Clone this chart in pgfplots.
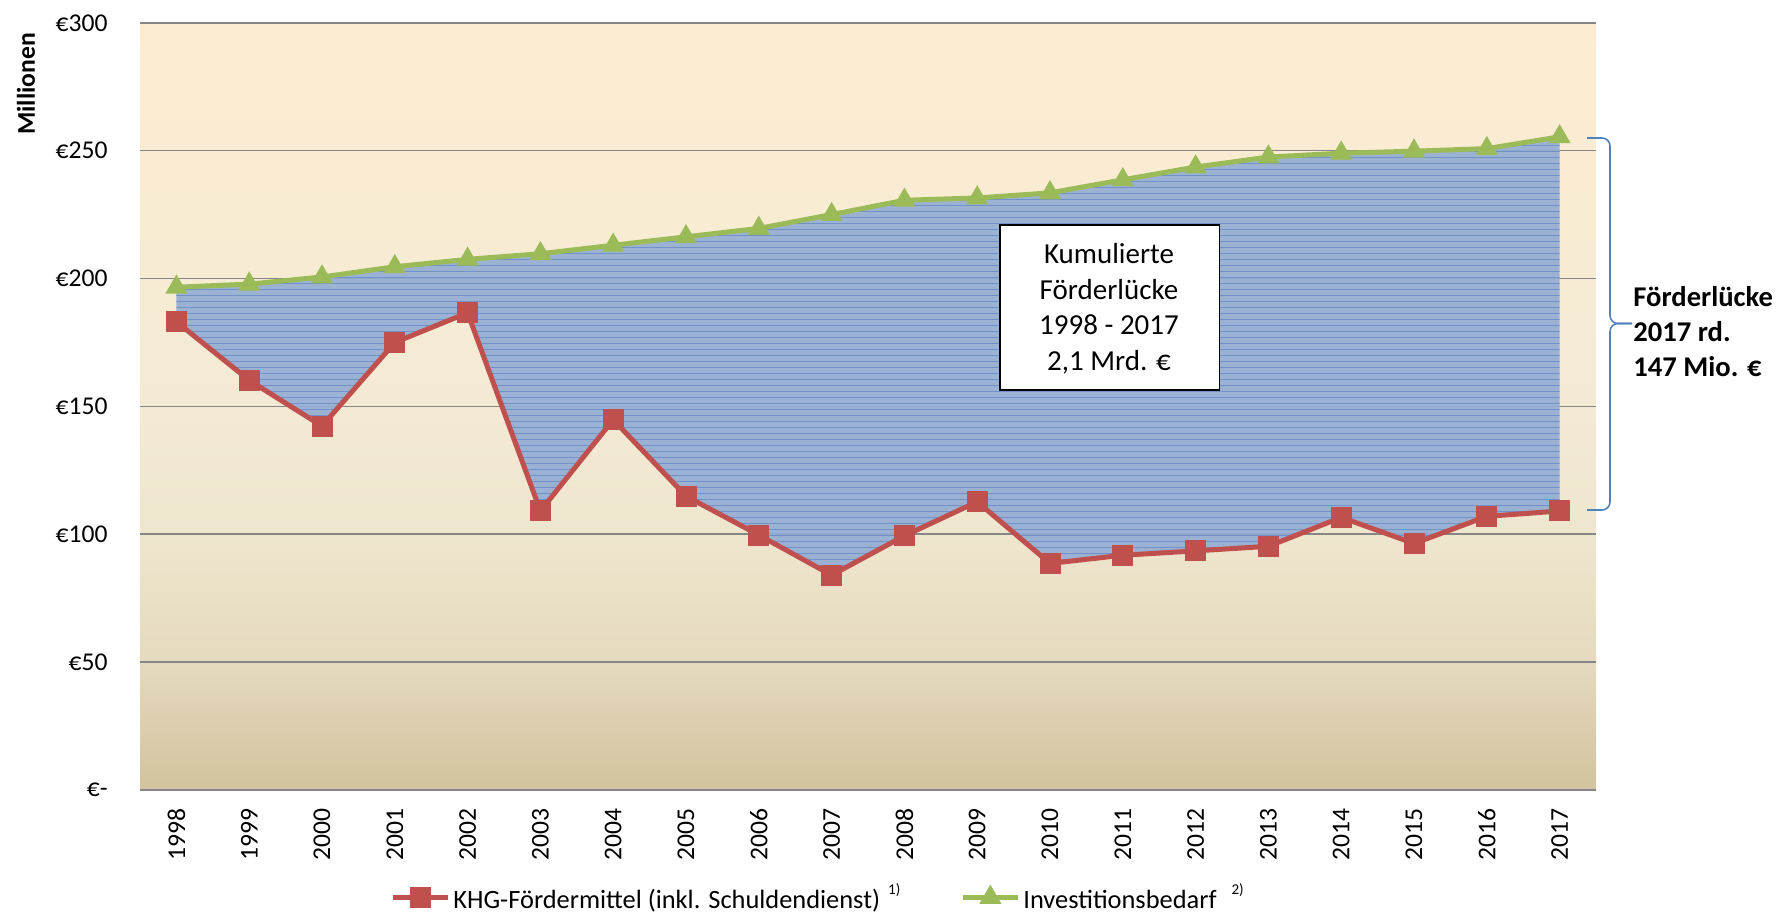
\documentclass[border=0pt]{standalone}
\usepackage{fontspec}
\setmainfont{Carlito}
\usepackage{pgfplots}
\usepackage{pgfplotstable}
\pgfplotsset{compat=1.18}
\usepgfplotslibrary{fillbetween}
\usetikzlibrary{patterns,calc}

\definecolor{khgred}{RGB}{192,80,77}
\definecolor{invgreen}{RGB}{155,187,89}
\definecolor{gapblue}{RGB}{146,172,212}
\definecolor{gapline}{RGB}{112,146,200}
\definecolor{gridgray}{RGB}{134,134,134}
\definecolor{bgtop}{RGB}{252,237,209}
\definecolor{bgupper}{RGB}{248,236,211}
\definecolor{bgmid}{RGB}{244,234,212}
\definecolor{bgq}{RGB}{239,230,206}
\definecolor{bgl}{RGB}{229,218,190}
\definecolor{bgbot}{RGB}{209,195,158}
\definecolor{braceblue}{RGB}{79,129,189}

\pgfdeclareverticalshading{bgshade}{100bp}{color(0bp)=(bgbot); color(25bp)=(bgbot); color(33.33bp)=(bgl); color(41.67bp)=(bgq); color(50bp)=(bgmid); color(62.5bp)=(bgupper); color(75bp)=(bgtop); color(100bp)=(bgtop)}

\pgfplotstableread{
x khg inv
0 183.1 196.6
1 160.2 197.8
2 142.3 200.6
3 175.0 204.6
4 186.6 207.5
5 109.1 209.7
6 144.8 213.0
7 114.9 216.3
8 99.7 219.6
9 84.0 225.0
10 99.4 230.6
11 112.7 231.5
12 88.6 233.5
13 91.8 238.6
14 93.5 243.6
15 95.3 247.5
16 106.6 249.0
17 96.4 249.8
18 107.0 250.8
19 109.1 255.4
}\data

\begin{document}
\begin{tikzpicture}
\begin{axis}[
  at={(70pt,62pt)}, anchor=south west,
  width=728pt, height=383.6pt, scale only axis,
  xmin=-0.5, xmax=19.5, ymin=0, ymax=300,
  xtick={0,1,2,3,4,5,6,7,8,9,10,11,12,13,14,15,16,17,18,19},
  xticklabels={1998,1999,2000,2001,2002,2003,2004,2005,2006,2007,2008,2009,2010,2011,2012,2013,2014,2015,2016,2017},
  ytick={0,50,100,150,200,250,300},
  yticklabels={€-,€50,€100,€150,€200,€250,€300},
  ymajorgrids,
  grid style={gridgray, line width=0.8pt},
  axis line style={draw=none},
  major tick length=0pt,
  tick label style={font=\fontsize{12.8}{15}\selectfont},
  xticklabel style={rotate=90, anchor=east, inner sep=0pt},
  yticklabel style={anchor=east, inner sep=0pt},
  xticklabel shift=9pt,
  yticklabel shift=16pt,
  axis background/.style={shading=bgshade},
  legend columns=2,
  legend style={at={(0.1717,-0.1400)}, anchor=west, draw=none, fill=none,
    inner sep=0pt, font=\fontsize{13.2}{15}\selectfont,
    nodes={inner sep=0pt, anchor=west},
    /tikz/every odd column/.style={column sep=1.5pt},
    /tikz/every even column/.style={column sep=30pt}},
  legend image code/.code={\draw[mark repeat=2,mark phase=2,#1] plot coordinates {(0pt,0pt) (13.75pt,0pt) (27.5pt,0pt)};},
]
\addplot[name path=khg, khgred, line width=2.5pt, mark=square*, mark size=5pt,
  mark options={solid, fill=khgred, draw=khgred, line width=0.5pt}] table[x=x, y=khg] {\data};
\addlegendentry{KHG-Fördermittel (inkl. Schuldendienst)\hspace{4pt}\raisebox{7pt}{\fontsize{7.5}{9}\selectfont 1)}}
\addplot[name path=inv, invgreen, line width=2.5pt, mark=triangle*, mark size=5.9pt,
  mark options={solid, fill=invgreen, draw=invgreen, line width=0.5pt}] table[x=x, y=inv] {\data};
\addlegendentry{Investitionsbedarf\hspace{7.5pt}\raisebox{7pt}{\fontsize{7.5}{9}\selectfont 2)}}
\addplot[draw=none, fill=gapblue, fill opacity=0.9, forget plot] fill between[of=inv and khg];
\addplot[draw=none, pattern=horizontal lines, pattern color=gapline, forget plot] fill between[of=inv and khg];
\end{axis}

% Y axis title
\node[rotate=90, font=\fontsize{12.8}{15}\selectfont\bfseries, inner sep=0pt] at (13pt,415pt) {Millionen};

% Text box
\draw[black, line width=0.6pt, fill=white] (500pt,262pt) rectangle (609.75pt,344.5pt);
\begin{scope}[every node/.style={anchor=base, inner sep=0pt, font=\fontsize{14.5}{18}\selectfont}]
\node at (554.5pt,325.35pt) {Kumulierte};
\node at (554.5pt,307.35pt) {Förderlücke};
\node at (554.5pt,289.5pt) {1998 - 2017};
\node at (554.5pt,271.5pt) {2,1 Mrd. €};
\end{scope}

% Brace
\def\xl{793.5pt}\def\xv{805pt}\def\xt{816pt}\def\yt{295.25pt}\def\ytop{388pt}\def\ybot{202pt}\def\rr{4pt}
\draw[braceblue, line width=0.8pt]
  (\xl,\ytop) -- ($(\xv,\ytop)+(-\rr,0)$) arc[start angle=90, end angle=0, radius=\rr]
  -- ($(\xv,\yt)+(0,\rr)$) arc[start angle=180, end angle=270, radius=\rr] -- (\xt,\yt);
\draw[braceblue, line width=0.8pt]
  (\xt,\yt) -- ($(\xv,\yt)+(\rr,0)$) arc[start angle=90, end angle=180, radius=\rr]
  -- ($(\xv,\ybot)+(0,\rr)$) arc[start angle=0, end angle=-90, radius=\rr] -- (\xl,\ybot);

% Right annotation
\begin{scope}[every node/.style={anchor=base west, inner sep=0pt, font=\fontsize{14.3}{17.5}\selectfont\bfseries}]
\node at (816.5pt,303.5pt) {Förderlücke};
\node at (816.5pt,286pt) {2017 rd.};
\node at (816.5pt,268.5pt) {147 Mio. €};
\end{scope}

\pgfresetboundingbox
\path[use as bounding box] (0pt,0pt) rectangle (890.5pt,457pt);
\end{tikzpicture}
\end{document}
